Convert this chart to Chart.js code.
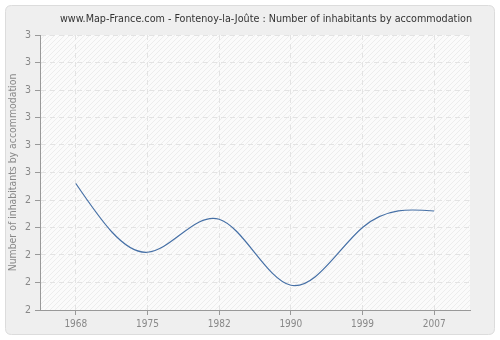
<!DOCTYPE html>
<html>
<head>
<meta charset="utf-8">
<script src="https://cdn.jsdelivr.net/npm/chart.js@4/dist/chart.umd.min.js"></script>
<style>
html,body{margin:0;padding:0;background:#fff;}
#wrap{width:500px;height:340px;position:relative;}
</style>
</head>
<body>
<div id="wrap"><canvas id="c" width="500" height="340"></canvas></div>
<script>
const titleText = "www.Map-France.com - Fontenoy-la-Joûte : Number of inhabitants by accommodation";
const yAxisTitle = "Number of inhabitants by accommodation";
const years = ["1968", "1975", "1982", "1990", "1999", "2007"];
const inhabitantsPerHome = [2.46, 2.21, 2.33, 2.09, 2.30, 2.36];
const yMin = 2, yMax = 3, yStep = 0.1;

const FONT = '"DejaVu Sans Condensed", "DejaVu Sans", sans-serif';

const framePlugin = {
  id: 'frame',
  beforeDraw(chart) {
    const ctx = chart.ctx;
    const a = chart.chartArea;
    ctx.save();
    ctx.fillStyle = '#ffffff';
    ctx.fillRect(0, 0, chart.width, chart.height);
    const x = 5.5, y = 5.5, w = 489, h = 329, r = 6;
    ctx.beginPath();
    ctx.moveTo(x + r, y);
    ctx.lineTo(x + w - r, y);
    ctx.quadraticCurveTo(x + w, y, x + w, y + r);
    ctx.lineTo(x + w, y + h - r);
    ctx.quadraticCurveTo(x + w, y + h, x + w - r, y + h);
    ctx.lineTo(x + r, y + h);
    ctx.quadraticCurveTo(x, y + h, x, y + h - r);
    ctx.lineTo(x, y + r);
    ctx.quadraticCurveTo(x, y, x + r, y);
    ctx.closePath();
    ctx.fillStyle = '#efefef';
    ctx.fill();
    ctx.strokeStyle = '#dcdcdc';
    ctx.lineWidth = 1;
    ctx.stroke();
    ctx.fillStyle = '#fbfbfb';
    ctx.fillRect(a.left, a.top, a.right - a.left, a.bottom - a.top);
    ctx.beginPath();
    ctx.rect(a.left, a.top, a.right - a.left, a.bottom - a.top);
    ctx.clip();
    ctx.strokeStyle = '#ededed';
    ctx.lineWidth = 1;
    ctx.beginPath();
    const H = a.bottom - a.top;
    for (let s = a.left - H; s < a.right + H; s += 5) {
      ctx.moveTo(s, a.bottom);
      ctx.lineTo(s + H, a.top);
    }
    ctx.stroke();
    ctx.restore();
    ctx.save();
    ctx.fillStyle = '#333333';
    ctx.font = '10.7px ' + FONT;
    ctx.textAlign = 'center';
    ctx.textBaseline = 'alphabetic';
    ctx.fillText(titleText, 266, 21.5);
    ctx.restore();
  }
};

// Natural cubic spline control points, set on the library's own point elements
const splinePlugin = {
  id: 'naturalSpline',
  beforeDatasetsDraw(chart) {
    const meta = chart.getDatasetMeta(0);
    const pts = meta.data;
    const n = pts.length;
    if (n < 3) return;
    const xs = pts.map(p => p.x), ys = pts.map(p => p.y);
    const h = [];
    for (let i = 0; i < n - 1; i++) h.push(xs[i + 1] - xs[i]);
    const a = new Array(n).fill(0), b = new Array(n).fill(1), c = new Array(n).fill(0), d = new Array(n).fill(0);
    for (let i = 1; i < n - 1; i++) {
      a[i] = h[i - 1];
      b[i] = 2 * (h[i - 1] + h[i]);
      c[i] = h[i];
      d[i] = 6 * ((ys[i + 1] - ys[i]) / h[i] - (ys[i] - ys[i - 1]) / h[i - 1]);
    }
    for (let i = 1; i < n; i++) {
      const m = a[i] / b[i - 1];
      b[i] -= m * c[i - 1];
      d[i] -= m * d[i - 1];
    }
    const M = new Array(n).fill(0);
    M[n - 1] = d[n - 1] / b[n - 1];
    for (let i = n - 2; i >= 0; i--) M[i] = (d[i] - c[i] * M[i + 1]) / b[i];
    M[0] = 0; M[n - 1] = 0;
    for (let i = 0; i < n - 1; i++) {
      const hi = h[i];
      const s0 = (ys[i + 1] - ys[i]) / hi - hi * (2 * M[i] + M[i + 1]) / 6;
      const s1 = (ys[i + 1] - ys[i]) / hi + hi * (M[i] + 2 * M[i + 1]) / 6;
      pts[i].cp2x = xs[i] + hi / 3;
      pts[i].cp2y = ys[i] + s0 * hi / 3;
      pts[i + 1].cp1x = xs[i + 1] - hi / 3;
      pts[i + 1].cp1y = ys[i + 1] - s1 * hi / 3;
    }
    pts[0].cp1x = xs[0]; pts[0].cp1y = ys[0];
    pts[n - 1].cp2x = xs[n - 1]; pts[n - 1].cp2y = ys[n - 1];
    const line = meta.dataset;
    line._pointsUpdated = true;
    delete line._path;
  }
};

new Chart(document.getElementById('c'), {
  type: 'line',
  data: {
    labels: years,
    datasets: [{
      data: inhabitantsPerHome,
      borderColor: '#4670a6',
      borderWidth: 1.2,
      pointRadius: 0,
      fill: false,
      tension: 0.4
    }]
  },
  options: {
    responsive: false,
    animation: false,
    devicePixelRatio: 1,
    layout: { padding: { left: 0, right: 30, top: 35, bottom: 0 } },
    plugins: { legend: { display: false }, title: { display: false }, tooltip: { enabled: false } },
    scales: {
      x: {
        offset: true,
        grid: {
          offset: false,
          color: '#e3e3e3',
          tickBorderDash: [],
          tickColor: '#999999',
          tickLength: 5
        },
        border: { color: '#999999', width: 1, dash: [5, 4] },
        ticks: { color: '#888888', font: { family: FONT, size: 10 }, padding: 3, maxRotation: 0 },
        afterFit(s) { s.height = 30; }
      },
      y: {
        min: yMin,
        max: yMax,
        ticks: {
          stepSize: yStep,
          color: '#888888',
          font: { family: FONT, size: 10.5 },
          padding: 4,
          callback: v => String(Math.round(v))
        },
        grid: {
          color: '#e3e3e3',
          tickBorderDash: [],
          tickColor: '#999999',
          tickLength: 5
        },
        border: { color: '#999999', width: 1, dash: [5, 4] },
        title: {
          display: true,
          text: yAxisTitle,
          color: '#888888',
          font: { family: FONT, size: 10.4 },
          padding: { top: 7, bottom: 0 }
        },
        afterFit(s) { s.width = 40; }
      }
    }
  },
  plugins: [framePlugin, splinePlugin]
});
</script>
</body>
</html>
